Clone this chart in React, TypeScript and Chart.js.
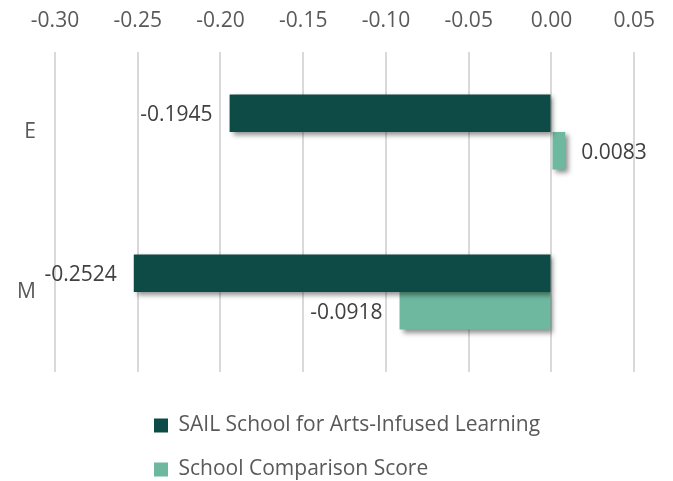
import React, { useEffect, useRef } from "react";
import { Chart, registerables } from "chart.js";

Chart.register(...registerables);

const categories = ["E", "M"];
const seriesNames = ["SAIL School for Arts-Infused Learning", "School Comparison Score"];
const sailValues = [-0.1945, -0.2524];
const comparisonValues = [0.0083, -0.0918];
const axisMin = -0.3;
const axisMax = 0.05;
const axisStep = 0.05;

const DARK = "#0F4B46";
const LIGHT = "#6DB89E";
const FONT = "'Open Sans', Lato, sans-serif";

const shadowPlugin = {
  id: "barShadow",
  beforeDatasetsDraw(chart: any) {
    const ctx = chart.ctx;
    ctx.save();
    ctx.shadowColor = "rgba(0,0,0,0.45)";
    ctx.shadowOffsetX = 3;
    ctx.shadowOffsetY = 3;
    ctx.shadowBlur = 5;
  },
  afterDatasetsDraw(chart: any) {
    const ctx = chart.ctx;
    ctx.restore();
    ctx.save();
    ctx.font = `21px ${FONT}`;
    ctx.fillStyle = "#404040";
    ctx.textBaseline = "middle";
    chart.data.datasets.forEach((ds: any, di: number) => {
      const meta = chart.getDatasetMeta(di);
      meta.data.forEach((bar: any, i: number) => {
        const v = ds.data[i] as number;
        const text = v.toFixed(4);
        if (v < 0) {
          ctx.textAlign = "right";
          ctx.fillText(text, bar.x - 17, bar.y + 2);
        } else {
          ctx.textAlign = "left";
          ctx.fillText(text, bar.x + 16, bar.y + 2);
        }
      });
    });
    ctx.restore();
  },
};

const legendPlacePlugin = {
  id: "legendPlace",
  afterLayout(chart: any) {
    const lg = chart.legend;
    if (!lg) return;
    const h = lg.bottom - lg.top;
    lg.top = 392;
    lg.bottom = 392 + h;
    lg.left = 131;
    lg.right = 131 + 420;
  },
};

export default function App() {
  const ref = useRef<HTMLCanvasElement | null>(null);
  useEffect(() => {
    document.body.style.margin = "0";
    const chart = new Chart(ref.current as HTMLCanvasElement, {
      type: "bar",
      data: {
        labels: categories,
        datasets: [
          { label: seriesNames[0], data: sailValues, backgroundColor: DARK, borderWidth: 0 },
          { label: seriesNames[1], data: comparisonValues, backgroundColor: LIGHT, borderWidth: 0 },
        ],
      },
      options: {
        indexAxis: "y",
        animation: false,
        responsive: true,
        maintainAspectRatio: false,
        layout: { padding: { left: 0, right: 35, top: 0, bottom: 11 } },
        datasets: { bar: { categoryPercentage: 0.47, barPercentage: 1 } },
        scales: {
          x: {
            position: "top",
            min: axisMin,
            max: axisMax,
            ticks: {
              stepSize: axisStep,
              color: "#595959",
              font: { family: FONT, size: 21 },
              padding: 18,
              callback: (v: any) => Number(v).toFixed(2),
            },
            grid: { color: "#D9D9D9", lineWidth: 2, drawTicks: false },
            border: { display: false },
            afterFit: (s: any) => { s.height = 52; },
          },
          y: {
            ticks: {
              color: "#595959",
              font: { family: FONT, size: 21 },
              padding: 19,
            },
            grid: { display: false, drawTicks: false },
            border: { display: false },
            afterFit: (s: any) => { s.width = 55; },
          },
        },
        plugins: {
          tooltip: { enabled: false },
          legend: {
            position: "bottom",
            align: "start",
            fullSize: false,
            maxHeight: 116,
            labels: {
              boxWidth: 14,
              boxHeight: 14,
              padding: 23,
              color: "#595959",
              font: { family: FONT, size: 21 },
            },
          },
        },
      },
      plugins: [shadowPlugin, legendPlacePlugin],
    } as any);
    return () => chart.destroy();
  }, []);
  return (
    <div style={{ width: 673, height: 481, position: "relative" }}>
      <canvas ref={ref} />
    </div>
  );
}
